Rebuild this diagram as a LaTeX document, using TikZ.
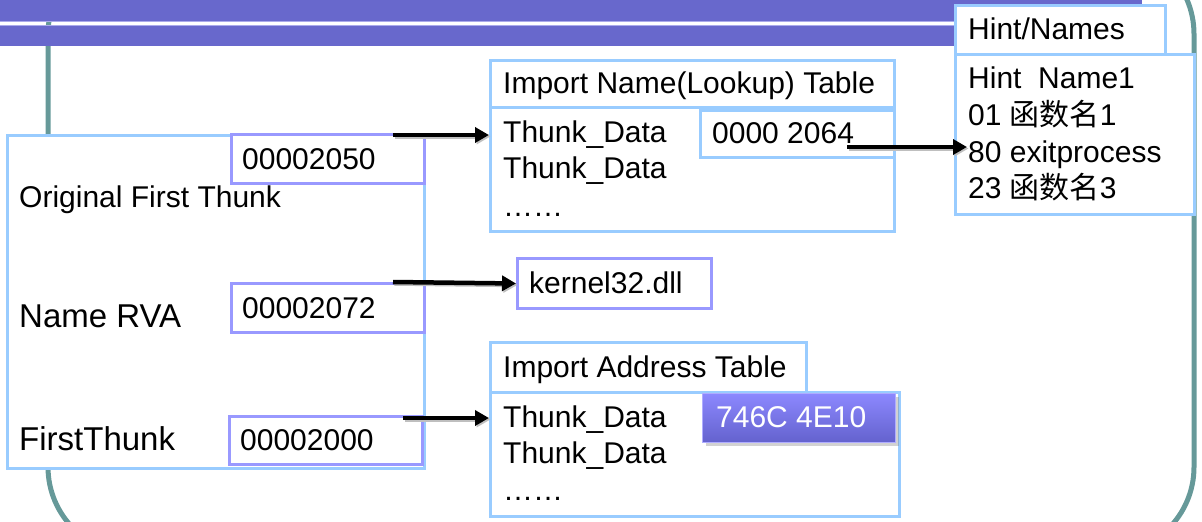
\documentclass[tikz,border=0pt]{standalone}
\usepackage{fontspec}
\setmainfont{Liberation Sans}
\newfontfamily\cjk{Noto Sans CJK SC}
\usetikzlibrary{arrows.meta,shadows,calc}
\definecolor{band}{RGB}{104,104,204}
\definecolor{bandlight}{RGB}{170,170,235}
\definecolor{framec}{RGB}{102,153,153}
\definecolor{lblue}{RGB}{153,204,255}
\definecolor{lpurple}{RGB}{153,153,255}
\definecolor{gradtop}{RGB}{140,136,255}
\definecolor{gradbot}{RGB}{100,98,205}
\tikzset{
  bx/.style={draw=lblue, line width=3pt, fill=white, inner sep=0pt, anchor=north west},
  pbx/.style={draw=lpurple, line width=3pt, fill=white, inner sep=0pt, anchor=north west},
  txt/.style={anchor=base west, inner sep=0pt, font=\fontsize{30}{36}\selectfont},
  bigtxt/.style={anchor=base west, inner sep=0pt, font=\fontsize{33}{40}\selectfont},
  arr/.style={line width=4.5pt, -{Triangle[length=14pt,width=15pt]},
    preaction={draw=black!25, line width=4.5pt, transform canvas={shift={(1.5pt,-1.5pt)}}}}
}
\begin{document}
\begin{tikzpicture}[x=1pt,y=-1pt]
\useasboundingbox (0,0) rectangle (1202,522);
\clip (0,0) rectangle (1202,522);
% frame and title bands
\draw[framec, line width=5pt, rounded corners=87pt] (48,-53) rectangle (1194,554);
\fill[band] (0,0) rectangle (1142,21);
\fill[band] (0,26) rectangle (1142,46);
\draw[bandlight, line width=1pt] (0,21.5) -- (1142,21.5);
\draw[bandlight, line width=1pt] (0,25.5) -- (1142,25.5);

% left structure
\node[bx, minimum width=417pt, minimum height=333pt] (leftbox) at (6,134) {};
\node[pbx, minimum width=193pt, minimum height=49pt] (v1) at (230,133) {};
\node[pbx, minimum width=193pt, minimum height=49pt] (v2) at (230,282) {};
\node[pbx, minimum width=193pt, minimum height=48pt] (v3) at (228,415) {};
\node[txt] (v1t) at (242,169) {00002050};
\node[txt] (oft) at (19,207) {Original First Thunk};
\node[bigtxt] (nrva) at (19,327) {Name RVA};
\node[txt] (v2t) at (242,318) {00002072};
\node[bigtxt] (ft) at (19,450) {FirstThunk};
\node[txt] (v3t) at (240,450) {00002000};

% import name table
\node[bx, minimum width=404pt, minimum height=47pt] (intHead) at (489,59) {};
\node[bx, minimum width=404pt, minimum height=124pt] (intBody) at (489,106) {};
\node[bx, minimum width=194pt, minimum height=47pt] (intVal) at (699,109) {};
\node[txt] (intTitle) at (503,93) {Import Name(Lookup) Table};
\node[txt] (intA) at (503,142) {Thunk\_Data};
\node[txt] (intB) at (503,178) {Thunk\_Data};
\node[txt] (intC) at (503,216) {……};
\node[txt] (intValT) at (712,143) {0000 2064};

% kernel32
\node[pbx, minimum width=194pt, minimum height=50pt] (kernel) at (516,257) {};
\node[txt] (kernelT) at (529,293) {kernel32.dll};

% import address table
\node[bx, minimum width=316pt, minimum height=50pt] (iatHead) at (489,341) {};
\node[bx, minimum width=409pt, minimum height=124pt] (iatBody) at (489,391) {};
\node[anchor=north west, inner sep=0pt, minimum width=193pt, minimum height=49pt,
      top color=gradtop, bottom color=gradbot, draw=gradtop!70!white, line width=1pt,
      drop shadow={shadow xshift=3pt, shadow yshift=-3pt, opacity=0.35}] (iatVal) at (702,393) {};
\node[txt] (iatTitle) at (503,377) {Import Address Table};
\node[txt] (iatA) at (503,427) {Thunk\_Data};
\node[txt] (iatB) at (503,463) {Thunk\_Data};
\node[txt] (iatC) at (503,500) {……};
\node[txt, text=white] (iatValT) at (716,427) {746C 4E10};

% hint/names
\node[bx, minimum width=210pt, minimum height=49pt] (hnHead) at (954,4) {};
\node[bx, minimum width=239pt, minimum height=160pt] (hnBody) at (954,53) {};
\node[txt] (hnTitle) at (968,39) {Hint/Names};
\node[txt] (hnA) at (968,88) {Hint\ \ Name1};
\node[txt] (hnB) at (968,125) {01 {\cjk 函数名}1};
\node[txt] (hnC) at (968,162) {80 exitprocess};
\node[txt] (hnD) at (968,198) {23 {\cjk 函数名}3};

% connectors
\coordinate (s1) at (393,135);
\coordinate (s2) at (393,282);
\coordinate (s3) at (403,418);
\coordinate (s4) at (847,147);
\coordinate (e4) at (967,147);
\draw[arr] (s1) -- (s1 -| intBody.west);
\draw[arr] (s2) -- (kernel.west);
\draw[arr] (s3) -- (s3 -| iatBody.west);
\draw[arr] (s4) -- (e4);
\end{tikzpicture}
\end{document}
